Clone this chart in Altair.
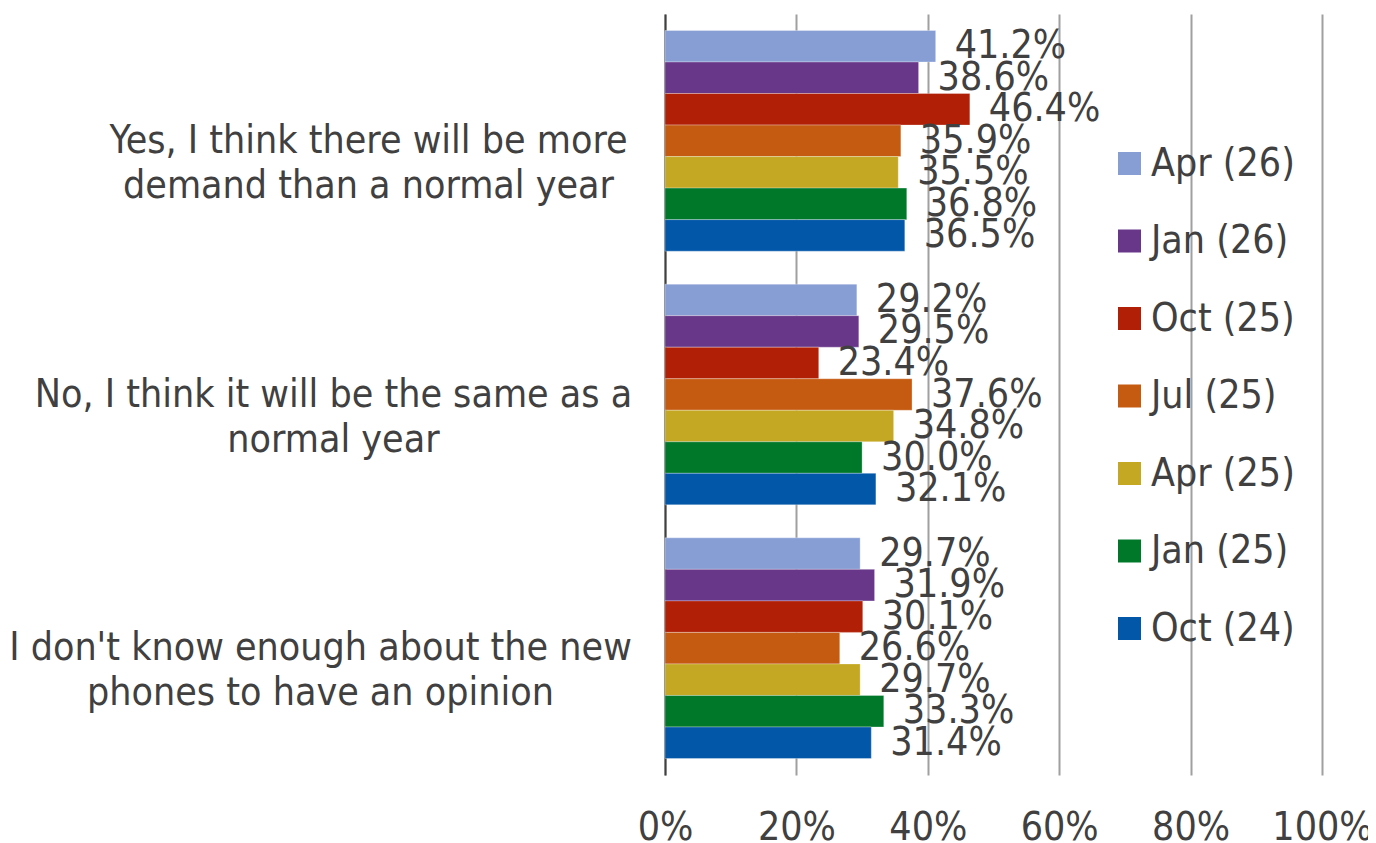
import altair as alt
import pandas as pd

categories = [
    "Yes, I think there will be more|demand than a normal year",
    "No, I think it will be the same as a|normal year",
    "I don't know enough about the new|phones to have an opinion",
]
series = ["Apr (26)", "Jan (26)", "Oct (25)", "Jul (25)", "Apr (25)", "Jan (25)", "Oct (24)"]
colors = ["#879ED5", "#68378A", "#B01F06", "#C55A11", "#C4A722", "#00782A", "#0357A8"]
values_yes = [41.2, 38.6, 46.4, 35.9, 35.5, 36.8, 36.5]
values_same = [29.2, 29.5, 23.4, 37.6, 34.8, 30.0, 32.1]
values_dont = [29.7, 31.9, 30.1, 26.6, 29.7, 33.3, 31.4]
x_ticks = [0, 20, 40, 60, 80, 100]

rows = []
for cat, vals in zip(categories, [values_yes, values_same, values_dont]):
    for i, (s, v) in enumerate(zip(series, vals)):
        rows.append({"cat": cat, "series": s, "order": i, "value": v / 100.0,
                     "label": f"{v:.1f}%"})
df = pd.DataFrame(rows)

FONT = "DejaVu Sans Condensed, DejaVu Sans"
TXT = "#404040"
FS = 39

y_enc = alt.Y(
    "cat:N", sort=categories, title=None,
    scale=alt.Scale(paddingInner=0.13, paddingOuter=0.065),
    axis=alt.Axis(
        labelExpr="split(datum.value, '|')",
        labelAlign="center",
        labelBaseline="middle",
        labelFontSize=FS,
        labelLineHeight=45,
        labelColor=TXT,
        labelFont=FONT,
        labelLimit=800,
        ticks=False,
        tickSize=0,
        domain=True,
        domainColor="#404040",
        domainWidth=2,
        grid=False,
        labelPadding={
            "condition": [
                {"test": f"datum.value == '{categories[0]}'", "value": 297},
                {"test": f"datum.value == '{categories[1]}'", "value": 332},
            ],
            "value": 345,
        },
    ),
)

x_enc = alt.X(
    "value:Q", title=None,
    scale=alt.Scale(domain=[0, 1], nice=False),
    axis=alt.Axis(values=[t / 100 for t in x_ticks], format=".0%",
                  grid=True, gridColor="#A0A0A0", gridWidth=2,
                  domain=False, ticks=False, labelPadding=33,
                  labelFontSize=FS, labelColor=TXT, labelFont=FONT,
                  labelFlush=False),
)

base = alt.Chart(df).encode(
    y=y_enc,
    yOffset=alt.YOffset("series:N", sort=series, scale=alt.Scale(paddingInner=0, paddingOuter=0)),
)

bars = base.mark_bar(stroke="white", strokeWidth=0.6, strokeOpacity=0.5).encode(
    x=x_enc,
    color=alt.Color(
        "series:N", sort=series,
        scale=alt.Scale(domain=series, range=colors),
        legend=alt.Legend(
            title=None, orient="none", legendX=445, legendY=130,
            symbolType="square", symbolSize=529, symbolStrokeWidth=0,
            labelFontSize=FS, labelFont=FONT, labelColor=TXT,
            labelOffset=2, rowPadding=37.5, labelLimit=400,
        ),
    ),
)

text = base.mark_text(align="left", baseline="middle", dx=19, fontSize=FS,
                      font=FONT, color=TXT).encode(
    x=alt.X("value:Q"),
    text="label:N",
)

chart = (bars + text).properties(
    width=657, height=761,
    autosize=alt.AutoSizeParams(type="none"),
    padding={"left": 657, "top": 6, "right": 46, "bottom": 75},
).configure_view(stroke=None)

chart.save("out.html", embed_options={"renderer": "svg", "actions": False})
